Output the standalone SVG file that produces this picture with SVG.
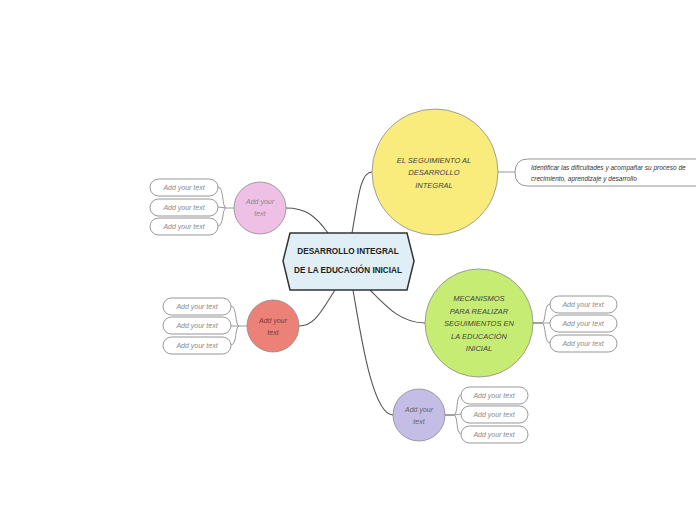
<svg xmlns="http://www.w3.org/2000/svg" width="696" height="520" viewBox="0 0 696 520">
<style>
.main{fill:none;stroke:#555;stroke-width:1.1}
.sub{fill:none;stroke:#9a9a9a;stroke-width:1}
.circ{stroke:#8a8a8a;stroke-width:0.8}
.box{fill:#fff;stroke:#8a8a8a;stroke-width:0.9}
.t{font-family:"Liberation Sans",Arial,sans-serif;font-style:italic;text-anchor:middle}
.st{font-size:7px;fill:#8a8a8a}
.nt{font-size:7.5px;fill:#444}
.ct{font-family:"Liberation Sans",Arial,sans-serif;font-weight:bold;font-size:8.2px;fill:#222;text-anchor:middle}
</style>
<rect width="696" height="520" fill="#fff"/>
<g id="connectors">
<path class="main" d="M352,233 C358,200 360,172 372,172"/>
<path class="main" d="M328,233 C315,215 305,208 286,208"/>
<path class="main" d="M335,290 C322,310 315,326 299,326"/>
<path class="main" d="M370,290 C385,305 400,323 425,323"/>
<path class="main" d="M353,290 C360,330 372,415 393,415"/>
<path class="sub" d="M498,172 L515,172"/>
<path class="sub" d="M234,208 L226,208 M226,208 C222,208 224,187 218,187 M226,208 L218,207 M226,208 C222,208 224,226 218,226"/>
<path class="sub" d="M247,326 L239,326 M239,326 C235,326 237,306 231,306 M239,326 L231,326 M239,326 C235,326 237,345 231,345"/>
<path class="main" d="M533,323 L542,323"/>
<path class="sub" d="M542,323 C546,323 544,304 550,304 M542,323 L550,323 M542,323 C546,323 544,343 550,343"/>
<path class="main" d="M445,415 L454,415"/>
<path class="sub" d="M454,415 C458,415 456,395 461,395 M454,415 L461,414 M454,415 C458,415 456,434 461,434"/>
</g>
<g id="central">
<path d="M290,233 L407,233 L414,261 L407,290 L290,290 L283,261 Z" fill="#e0eff6" stroke="#333" stroke-width="1.5"/>
<text class="ct" x="348" y="254">DESARROLLO INTEGRAL</text>
<text class="ct" x="348" y="273">DE LA EDUCACIÓN INICIAL</text>
</g>
<g id="seguimiento">
<circle class="circ" cx="435" cy="172" r="63" fill="#f9ec7c"/>
<text class="t nt" x="434" y="163">EL SEGUIMIENTO AL</text>
<text class="t nt" x="434" y="175">DESARROLLO</text>
<text class="t nt" x="434" y="188">INTEGRAL</text>
</g>
<g id="identificar">
<path class="box" d="M696,159 L528,159 Q515,159 515,172.5 Q515,186 528,186 L696,186"/>
<text class="t" x="531" y="170" style="text-anchor:start;font-size:6.5px;fill:#333">Identificar las dificultades y acompañar su proceso de</text>
<text class="t" x="531" y="181" style="text-anchor:start;font-size:6.5px;fill:#333">crecimiento, aprendizaje y desarrollo</text>
</g>
<g id="pink">
<circle class="circ" cx="260" cy="208" r="26" fill="#efc0e6"/>
<text class="t st" x="260" y="204">Add your</text>
<text class="t st" x="260" y="216">text</text>
</g>
<g id="pink-children">
<rect class="box" x="150" y="179" width="68" height="17" rx="8.5"/>
<text class="t st" x="184" y="190">Add your text</text>
<rect class="box" x="150" y="199" width="68" height="17" rx="8.5"/>
<text class="t st" x="184" y="210">Add your text</text>
<rect class="box" x="150" y="218" width="68" height="17" rx="8.5"/>
<text class="t st" x="184" y="229">Add your text</text>
</g>
<g id="red">
<circle class="circ" cx="273" cy="326" r="26" fill="#ec8277"/>
<text class="t st" x="273" y="323" style="fill:#7a3a35">Add your</text>
<text class="t st" x="273" y="335" style="fill:#7a3a35">text</text>
</g>
<g id="red-children">
<rect class="box" x="163" y="298" width="68" height="17" rx="8.5"/>
<text class="t st" x="197" y="309">Add your text</text>
<rect class="box" x="163" y="317" width="68" height="17" rx="8.5"/>
<text class="t st" x="197" y="328">Add your text</text>
<rect class="box" x="163" y="337" width="68" height="17" rx="8.5"/>
<text class="t st" x="197" y="348">Add your text</text>
</g>
<g id="mecanismos">
<circle class="circ" cx="479" cy="323" r="54" fill="#c6ec74"/>
<text class="t nt" x="479" y="301">MECANISMOS</text>
<text class="t nt" x="479" y="314">PARA REALIZAR</text>
<text class="t nt" x="479" y="326">SEGUIMIENTOS EN</text>
<text class="t nt" x="479" y="339">LA EDUCACIÓN</text>
<text class="t nt" x="479" y="351">INICIAL</text>
</g>
<g id="green-children">
<rect class="box" x="550" y="296" width="67" height="17" rx="8.5"/>
<text class="t st" x="583" y="307">Add your text</text>
<rect class="box" x="550" y="315" width="67" height="17" rx="8.5"/>
<text class="t st" x="583" y="326">Add your text</text>
<rect class="box" x="550" y="335" width="67" height="17" rx="8.5"/>
<text class="t st" x="583" y="346">Add your text</text>
</g>
<g id="purple">
<circle class="circ" cx="419" cy="415" r="26" fill="#c4bde6"/>
<text class="t st" x="419" y="412" style="fill:#666">Add your</text>
<text class="t st" x="419" y="424" style="fill:#666">text</text>
</g>
<g id="purple-children">
<rect class="box" x="461" y="387" width="67" height="17" rx="8.5"/>
<text class="t st" x="494" y="398">Add your text</text>
<rect class="box" x="461" y="406" width="67" height="17" rx="8.5"/>
<text class="t st" x="494" y="417">Add your text</text>
<rect class="box" x="461" y="426" width="67" height="17" rx="8.5"/>
<text class="t st" x="494" y="437">Add your text</text>
</g>
</svg>
